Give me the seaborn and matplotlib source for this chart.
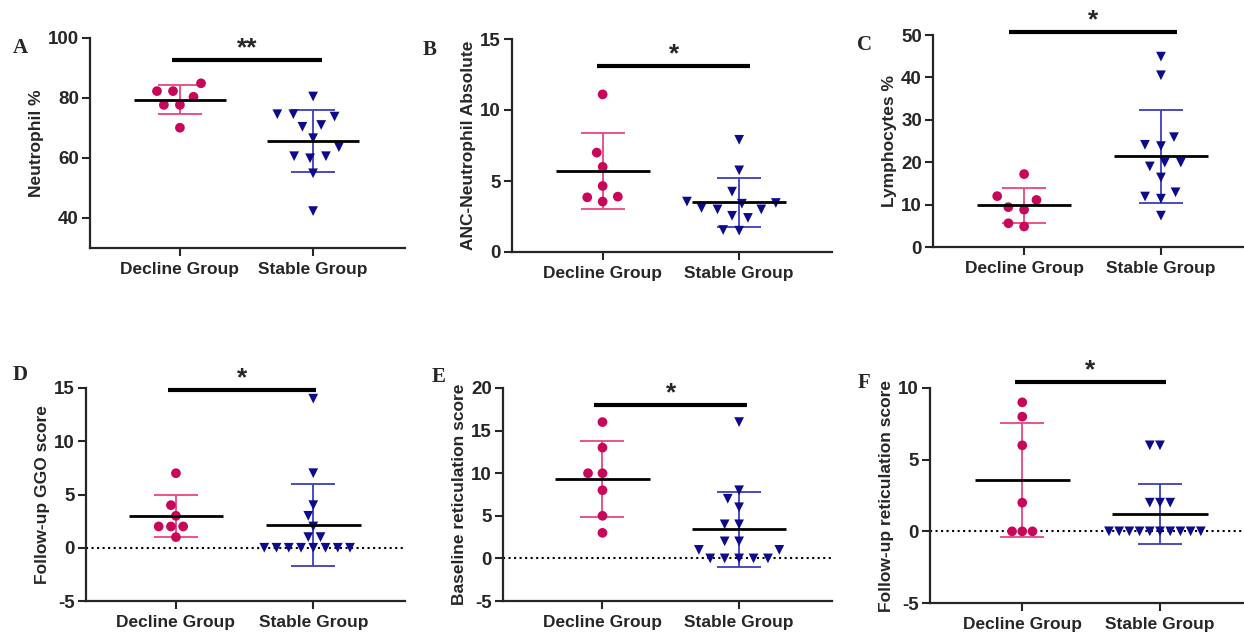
import numpy as np
import pandas as pd
import matplotlib
matplotlib.use('Agg')
import matplotlib.pyplot as plt
import seaborn as sns

"""Scatter dot plots (mean +/- SD) for the Decline and Stable groups, panels A-F
"""

sns.set_style('ticks')
plt.rcParams['font.family'] = ['Liberation Sans', 'DejaVu Sans']
plt.rcParams['font.weight'] = 'bold'
plt.rcParams['axes.unicode_minus'] = False

groups = ['Decline Group', 'Stable Group']

# valores
a_decline = [84.9, 82.3, 82.3, 80.4, 77.7, 77.7, 70.1]
a_stable = [80.5, 74.6, 74.6, 73.8, 71.0, 70.4, 66.6, 63.6, 60.6, 60.6, 59.9, 54.9, 42.3]

b_decline = [11.1, 7.0, 6.0, 4.65, 3.9, 3.85, 3.55]
b_stable = [7.9, 5.75, 4.25, 3.55, 3.45, 3.4, 3.1, 3.0, 3.0, 2.55, 2.4, 1.55, 1.5]

c_decline = [17.2, 12.0, 11.1, 9.4, 8.8, 5.6, 4.85]
c_stable = [44.9, 40.5, 25.9, 24.1, 23.8, 19.9, 19.9, 19.0, 16.4, 12.9, 11.9, 11.4, 7.4]

d_decline = [7, 4, 3, 2, 2, 2, 1]
d_stable = [14, 7, 4, 3, 2, 1, 1, 0, 0, 0, 0, 0, 0, 0, 0]

e_decline = [16, 13, 10, 10, 8, 5, 3]
e_stable = [16, 8, 7, 6, 4, 4, 2, 2, 1, 1, 0, 0, 0, 0, 0]

f_decline = [9, 8, 6, 2, 0, 0, 0]
f_stable = [6, 6, 2, 2, 2, 0, 0, 0, 0, 0, 0, 0, 0, 0, 0]

ylabels = ['Neutrophil %', 'ANC-Neutrophil Absolute', 'Lymphocytes %',
           'Follow-up GGO score', 'Baseline reticulation score',
           'Follow-up reticulation score']
stars = ['**', '*', '*', '*', '*', '*']
letters = ['A', 'B', 'C', 'D', 'E', 'F']
all_data = [(a_decline, a_stable), (b_decline, b_stable), (c_decline, c_stable),
            (d_decline, d_stable), (e_decline, e_stable), (f_decline, f_stable)]

# layout de cada painel (pixels da figura: esquerda, direita, topo, base)
boxes = [(90, 405, 38, 248), (512, 832, 39, 252), (933, 1244, 35, 247),
         (86, 405, 388, 601), (503, 832, 388, 601), (930, 1244, 388, 603)]
xlims = [(-0.675, 1.69), (-0.664, 1.68), (-0.666, 1.607),
         (-0.655, 1.668), (-0.728, 1.68), (-0.67, 1.61)]
ylims = [(30, 100), (0, 15), (0, 50), (-5, 15), (-5, 20), (-5, 10)]
yticks = [[40, 60, 80, 100], [0, 5, 10, 15], [0, 10, 20, 30, 40, 50],
          [-5, 0, 5, 10, 15], [-5, 0, 5, 10, 15, 20], [-5, 0, 5, 10]]
bars = [(-0.06, 1.07, 92.7), (-0.04, 1.08, 13.07), (-0.11, 1.12, 50.6),
        (-0.06, 1.02, 14.8), (-0.06, 1.06, 17.97), (-0.05, 1.04, 10.42)]
letter_pos = [(13, 48), (423, 50), (857, 45), (13, 375), (432, 377), (858, 383)]
# espaco extra (invisivel) entre os pontos do swarm, como no GraphPad
swarm_pad = [4, 4, 4, 1.4, 2.9, 0]

point_colors = ['#C8075A', '#0B0B8C']
err_colors = ['#E8467C', '#3B3BC4']
markers = ['o', 'v']

W, H = 1244, 633
fig = plt.figure(figsize=(W / 100, H / 100), dpi=100)

for n in range(6):
    left, right, top, bottom = boxes[n]
    ax = fig.add_axes([left / W, 1 - bottom / H, (right - left) / W, (bottom - top) / H])

    df = pd.DataFrame({'group': [groups[0]] * len(all_data[n][0]) + [groups[1]] * len(all_data[n][1]),
                       'value': list(all_data[n][0]) + list(all_data[n][1])})

    ax.set_ylim(ylims[n])
    if ylims[n][0] < 0:
        ax.axhline(0, color='black', ls=':', lw=1.5, zorder=1)

    for i, g in enumerate(groups):
        sub = df[df['group'] == g]
        sns.swarmplot(data=sub, x='group', y='value', order=groups, color=point_colors[i],
                      marker=markers[i], size=7, linewidth=swarm_pad[n], edgecolor='none',
                      ax=ax, zorder=3)
        m = sub['value'].mean()
        s = sub['value'].std()
        ax.errorbar(i, m, yerr=s, color=err_colors[i], capsize=15.5, elinewidth=1.3,
                    capthick=1.3, zorder=2)
        ax.hlines(m, i - 0.345, i + 0.345, color='black', lw=2, zorder=4)

    # barra de significancia
    x0, x1, yb = bars[n]
    ax.plot([x0, x1], [yb, yb], color='black', lw=3, clip_on=False, solid_capstyle='butt')
    ax.text((x0 + x1) / 2, yb, stars[n], ha='center', va='bottom', fontsize=19,
            fontweight='bold')

    ax.set_xlim(xlims[n])
    ax.set_ylim(ylims[n])
    ax.set_yticks(yticks[n])
    ax.set_xlabel('')
    ax.set_ylabel(ylabels[n], fontsize=12.5, fontweight='bold', labelpad=3)
    sns.despine(ax=ax)
    for side in ['left', 'bottom']:
        ax.spines[side].set_linewidth(1.6)
    ax.tick_params(axis='y', length=6, width=1.5, labelsize=13.5, pad=2)
    ax.tick_params(axis='x', length=6, width=1.5, labelsize=12.5, pad=4)
    for lab in ax.get_xticklabels() + ax.get_yticklabels():
        lab.set_fontweight('bold')

    fig.text(letter_pos[n][0] / W, 1 - letter_pos[n][1] / H, letters[n], ha='left', va='center',
             fontsize=15, fontweight='bold', family='Liberation Serif')

fig.savefig('out.png', dpi=100)
